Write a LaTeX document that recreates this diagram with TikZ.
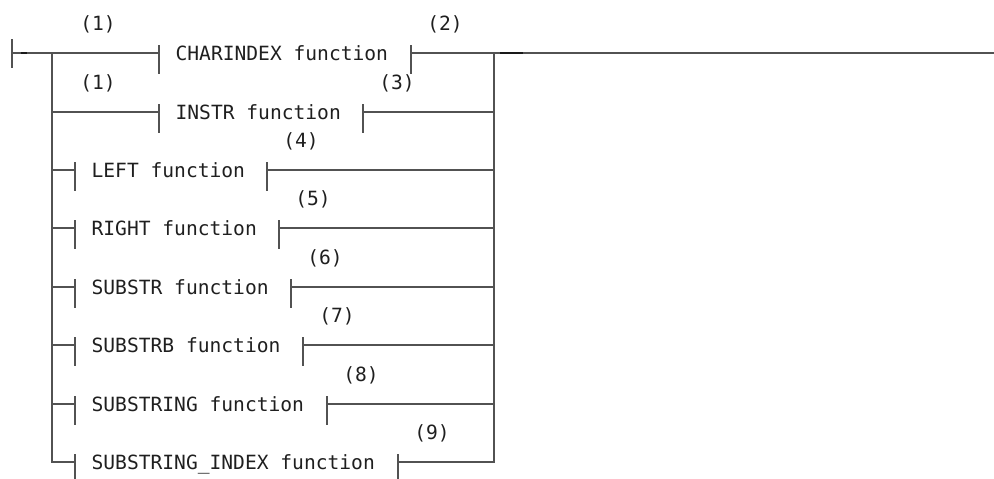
\documentclass[tikz,border=0pt]{standalone}
\usepackage{fontspec}
\newfontfamily\diagfont{DejaVu Sans Mono}
\newcommand{\fragbar}[1]{\draw[rail] ([yshift=8pt]#1) -- ([yshift=-21pt]#1);}
\begin{document}
\begin{tikzpicture}[x=1pt, y=-1pt, line width=1.3pt,
  rail/.style={draw=black!68},
  fn/.style={anchor=west, inner sep=0pt, text height=14.3pt, text depth=0pt,
    font=\diagfont\fontsize{19.6}{22}\selectfont, text=black!88},
  num/.style={inner sep=0pt, font=\diagfont\fontsize{19.6}{22}\selectfont, text=black!88}]
\useasboundingbox (0,0) rectangle (994,479);

% main line
\coordinate (start) at (12,53);
\coordinate (split) at (52,53);
\coordinate (join) at (494,53);
\coordinate (end) at (994,53);
\draw[rail] ([yshift=14pt]start) -- ([yshift=-15pt]start);

% fragment references
\coordinate (charindex-in) at (159,53);
\node[fn] (charindex) at (175,53) {CHARINDEX function};
\coordinate (charindex-out) at (411,53);
\coordinate (instr-in) at (159,112);
\node[fn] (instr) at (175,112) {INSTR function};
\coordinate (instr-out) at (363,112);
\coordinate (left-in) at (75,170);
\node[fn] (left) at (91,170) {LEFT function};
\coordinate (left-out) at (267,170);
\coordinate (right-in) at (75,228);
\node[fn] (right) at (91,228) {RIGHT function};
\coordinate (right-out) at (279,228);
\coordinate (substr-in) at (75,287);
\node[fn] (substr) at (91,287) {SUBSTR function};
\coordinate (substr-out) at (291,287);
\coordinate (substrb-in) at (75,345);
\node[fn] (substrb) at (91,345) {SUBSTRB function};
\coordinate (substrb-out) at (303,345);
\coordinate (substring-in) at (75,404);
\node[fn] (substring) at (91,404) {SUBSTRING function};
\coordinate (substring-out) at (327,404);
\coordinate (substrindex-in) at (75,462);
\node[fn] (substrindex) at (91,462) {SUBSTRING\_INDEX function};
\coordinate (substrindex-out) at (398,462);

\foreach \f in {charindex,instr,left,right,substr,substrb,substring,substrindex}{
  \fragbar{\f-in}
  \fragbar{\f-out}
}

% connectors
\draw[rail] (start) -- (charindex-in);
\draw[rail] (charindex-out) -- (end);
\draw[rail] (split) |- (instr-in);
\draw[rail] (instr-out) -| (join);
\foreach \f in {left,right,substr,substrb,substring,substrindex}{
  \draw[rail] (split) |- (\f-in);
  \draw[rail] (\f-out) -| (join);
}
\draw[line width=1.8pt, black!90] (21,53) -- (27,53);
\draw[line width=1.8pt, black!90] (500,53) -- (523,53);

% notes
\node[num] (n1a) at (98,24) {(1)};
\node[num] (n1b) at (98,83) {(1)};
\node[num] (n2) at ([xshift=34pt,yshift=29pt]charindex-out) {(2)};
\node[num] (n3) at ([xshift=34pt,yshift=29pt]instr-out) {(3)};
\node[num] (n4) at ([xshift=34pt,yshift=29pt]left-out) {(4)};
\node[num] (n5) at ([xshift=34pt,yshift=29pt]right-out) {(5)};
\node[num] (n6) at ([xshift=34pt,yshift=29pt]substr-out) {(6)};
\node[num] (n7) at ([xshift=34pt,yshift=29pt]substrb-out) {(7)};
\node[num] (n8) at ([xshift=34pt,yshift=29pt]substring-out) {(8)};
\node[num] (n9) at ([xshift=34pt,yshift=29pt]substrindex-out) {(9)};
\end{tikzpicture}
\end{document}
